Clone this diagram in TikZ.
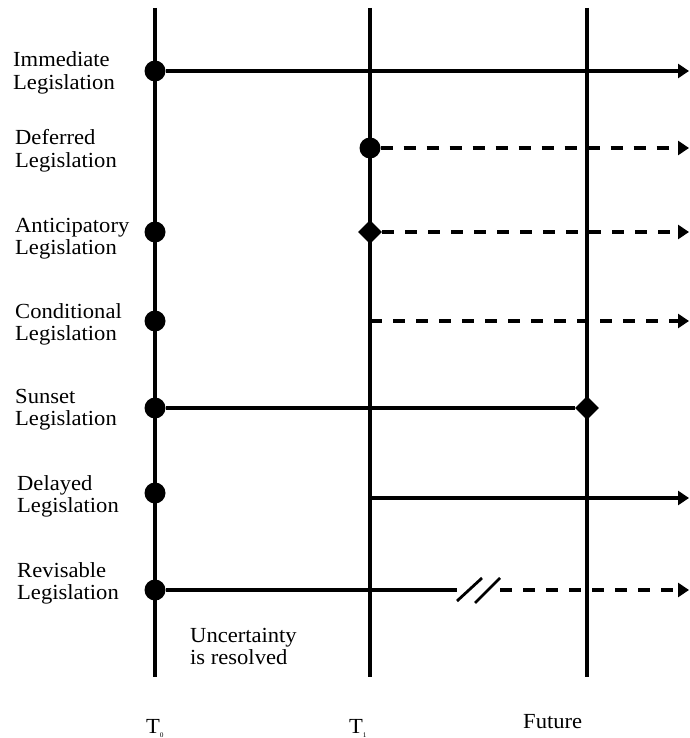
\documentclass[tikz,border=0pt]{standalone}
\usepackage{fontspec}
\setmainfont{Liberation Serif}[FakeStretch=1.05]
\usetikzlibrary{shapes.geometric,arrows.meta}
\tikzset{
  axis/.style={line width=3.3pt},
  flow/.style={line width=3.2pt,-{Triangle[length=11pt,width=14pt]}},
  flowdash/.style={flow,dash pattern=on 12pt off 11pt},
  plain/.style={line width=3.2pt},
  dot/.style={circle,fill=black,minimum size=21pt,inner sep=0pt},
  diam/.style={diamond,fill=black,minimum size=24pt,inner sep=0pt},
  lbl/.style={anchor=base west,inner sep=0pt,font=\fontsize{21.5}{22.5}\selectfont},
}
\newcommand{\twoline}[2]{\begin{tabular}[t]{@{}l@{}}#1\\#2\end{tabular}}
\begin{document}
\begin{tikzpicture}[x=1pt,y=-1pt]
\useasboundingbox (0,0) rectangle (689,738);
% time axes
\coordinate (t0top) at (155,8);  \coordinate (t0bot) at (155,677);
\coordinate (t1top) at (370,8);  \coordinate (t1bot) at (370,677);
\coordinate (ftop) at (587,8);   \coordinate (fbot) at (587,677);
\draw[axis] (t0top) -- (t0bot);
\draw[axis] (t1top) -- (t1bot);
\draw[axis] (ftop) -- (fbot);
% arrow ends
\coordinate (e1) at (689,71);
\coordinate (e2) at (689,148);
\coordinate (e3) at (689,232);
\coordinate (e4) at (689,321);
\coordinate (e6) at (689,498);
\coordinate (e7) at (689,590);
% markers
\node[dot] (d1) at (155,71) {};
\node[dot] (d2) at (370,148) {};
\node[dot] (d3) at (155,232) {};
\node[diam] (q3) at (370,232) {};
\node[dot] (d4) at (155,321) {};
\coordinate (c4) at (370,321);
\node[dot] (d5) at (155,408) {};
\node[diam] (q5) at (587,408) {};
\node[dot] (d6) at (155,493) {};
\coordinate (c6) at (370,498);
\node[dot] (d7) at (155,590) {};
\coordinate (s1) at (457,590);
\coordinate (s2) at (500,590);
% connectors
\draw[flow] (d1) -- (e1);
\draw[flowdash] (d2) -- (e2);
\draw[flowdash] (q3) -- (e3);
\draw[flowdash] (c4) -- (e4);
\draw[plain] (d5) -- (q5);
\draw[flow] (c6) -- (e6);
\draw[plain] (d7) -- (s1);
\draw[flowdash] (s2) -- (e7);
% break marks
\draw[line width=2.8pt] (457,601) -- (482,578);
\draw[line width=2.8pt] (475,603) -- (500,578);
% labels
\node[lbl] (l1) at (13,67) {\twoline{Immediate}{Legislation}};
\node[lbl] (l2) at (15,145) {\twoline{Deferred}{Legislation}};
\node[lbl] (l3) at (15,232) {\twoline{Anticipatory}{Legislation}};
\node[lbl] (l4) at (15,318) {\twoline{Conditional}{Legislation}};
\node[lbl] (l5) at (15,403) {\twoline{Sunset}{Legislation}};
\node[lbl] (l6) at (17,490) {\twoline{Delayed}{Legislation}};
\node[lbl] (l7) at (17,577) {\twoline{Revisable}{Legislation}};
\node[lbl] (unc) at (190,642) {\twoline{Uncertainty}{is resolved}};
\node[lbl] (T0) at (146,733) {T\raisebox{-4pt}{\fontsize{7}{7}\selectfont 0}};
\node[lbl] (T1) at (349,733) {T\raisebox{-4pt}{\fontsize{7}{7}\selectfont 1}};
\node[lbl] (fut) at (523,728) {Future};
\end{tikzpicture}
\end{document}
